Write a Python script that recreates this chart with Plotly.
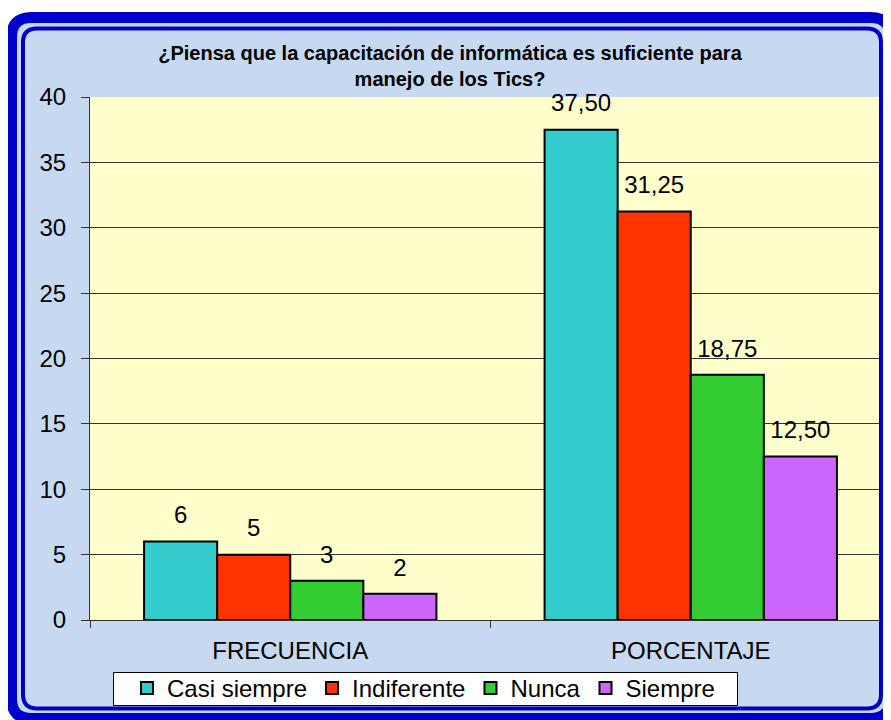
import plotly.graph_objects as go

# ---- data ----
categories = ["FRECUENCIA", "PORCENTAJE"]
series_names = ["Casi siempre", "Indiferente", "Nunca", "Siempre"]
casi_siempre = [6, 37.50]
indiferente = [5, 31.25]
nunca = [3, 18.75]
siempre = [2, 12.50]
series_values = [casi_siempre, indiferente, nunca, siempre]
series_colors = ["#33CCCC", "#FF3300", "#33CC33", "#CC66FF"]
title_text = "<b>¿Piensa que la capacitación de informática es suficiente para<br>manejo de los Tics?</b>"
y_ticks = [0, 5, 10, 15, 20, 25, 30, 35, 40]


def fmt(v, cat):
    if cat == "FRECUENCIA":
        return f"{v:.0f}"
    return f"{v:.2f}".replace(".", ",")


FONT = "Liberation Sans, Arial, sans-serif"
OFF = 8  # page body margin of the browser
W, H = 891 - OFF, 720 - OFF
# plot area in page pixels: x 90..891, y 97..620
ML, MR, MT, MB = 90 - OFF, 0, 97 - OFF, 720 - 620
PW, PH = W - ML - MR, H - MT - MB


def px(x):  # page pixel -> paper
    return (x - OFF - ML) / PW


def py(y):
    return (H - MB - (y - OFF)) / PH


def rounded(x0, y0, x1, y1, r):
    pts = [
        ("M", [(x0 + r, y0)]),
        ("L", [(x1 - r, y0)]),
        ("Q", [(x1, y0), (x1, y0 + r)]),
        ("L", [(x1, y1 - r)]),
        ("Q", [(x1, y1), (x1 - r, y1)]),
        ("L", [(x0 + r, y1)]),
        ("Q", [(x0, y1), (x0, y1 - r)]),
        ("L", [(x0, y0 + r)]),
        ("Q", [(x0, y0), (x0 + r, y0)]),
    ]
    s = ""
    for cmd, ps in pts:
        s += cmd + " ".join(f"{px(a):.5f},{py(b):.5f}" for a, b in ps) + " "
    return s + "Z"


fig = go.Figure()

for name, vals, col in zip(series_names, series_values, series_colors):
    fig.add_trace(go.Bar(
        name=name, x=categories, y=vals, offsetgroup=name,
        marker=dict(color=col, line=dict(color="black", width=2)),
        hoverinfo="skip",
    ))

for name, vals in zip(series_names, series_values):
    fig.add_trace(go.Scatter(
        x=categories, y=vals, offsetgroup=name, mode="markers+text",
        text=[fmt(v, c) for v, c in zip(vals, categories)],
        textposition="top center",
        textfont=dict(family=FONT, size=24, color="black"),
        marker=dict(size=18, color="rgba(0,0,0,0)"),
        showlegend=False, hoverinfo="skip", cliponaxis=False,
    ))

shapes = [
    dict(type="path", xref="paper", yref="paper", layer="below",
         path=rounded(11.5, 17.5, 890.5, 718.5, 20),
         fillcolor="#C6D9F1", line=dict(width=0)),
    dict(type="rect", xref="paper", yref="paper", layer="below",
         x0=0, x1=px(881), y0=0, y1=1,
         fillcolor="#FFFFCC", line=dict(width=0)),
    dict(type="path", xref="paper", yref="paper", layer="above",
         path=rounded(11.5, 17.5, 890.5, 718.5, 20),
         line=dict(color="#0000CC", width=11)),
    dict(type="path", xref="paper", yref="paper", layer="above",
         path=rounded(23, 28.5, 881, 708.5, 14),
         line=dict(color="#0000CC", width=4)),
    # legend frame
    dict(type="rect", xref="paper", yref="paper", layer="above",
         x0=px(113.5), x1=px(737.5), y0=py(705.5), y1=py(672.5),
         fillcolor="white", line=dict(color="black", width=1)),
]

fig.update_layout(
    width=W, height=H,
    margin=dict(l=ML, r=MR, t=MT, b=MB, pad=0),
    paper_bgcolor="white",
    plot_bgcolor="rgba(0,0,0,0)",
    barmode="group", bargap=0.27, bargroupgap=0,
    scattermode="group", scattergap=0.27,
    font=dict(family=FONT, color="black"),
    title=dict(text=title_text, x=(450 - OFF) / W, xanchor="center", xref="container",
               y=1 - 52 / H, yanchor="middle", yref="container",
               font=dict(family=FONT, size=20, color="black")),
    showlegend=True,
    legend=dict(orientation="h", x=px(127), xanchor="left",
                y=py(666), yanchor="top",
                bgcolor="rgba(0,0,0,0)", borderwidth=0,
                font=dict(family=FONT, size=24, color="black"),
                traceorder="normal"),
    shapes=shapes,
)

fig.update_xaxes(
    type="category", showline=True, linecolor="#333333", linewidth=1,
    ticks="outside", tickson="boundaries", ticklen=7, tickcolor="#333333",
    tickfont=dict(family=FONT, size=24, color="black"),
    ticklabelstandoff=9, showgrid=False, zeroline=False,
)
fig.update_yaxes(
    range=[0, 40], tickvals=y_ticks, showline=True, linecolor="#333333",
    linewidth=1, ticks="outside", ticklen=8, tickcolor="#333333",
    tickfont=dict(family=FONT, size=24, color="black"),
    ticklabelstandoff=10,
    showgrid=True, gridcolor="#333333", gridwidth=1, zeroline=False,
)

fig.write_html("out.html")
